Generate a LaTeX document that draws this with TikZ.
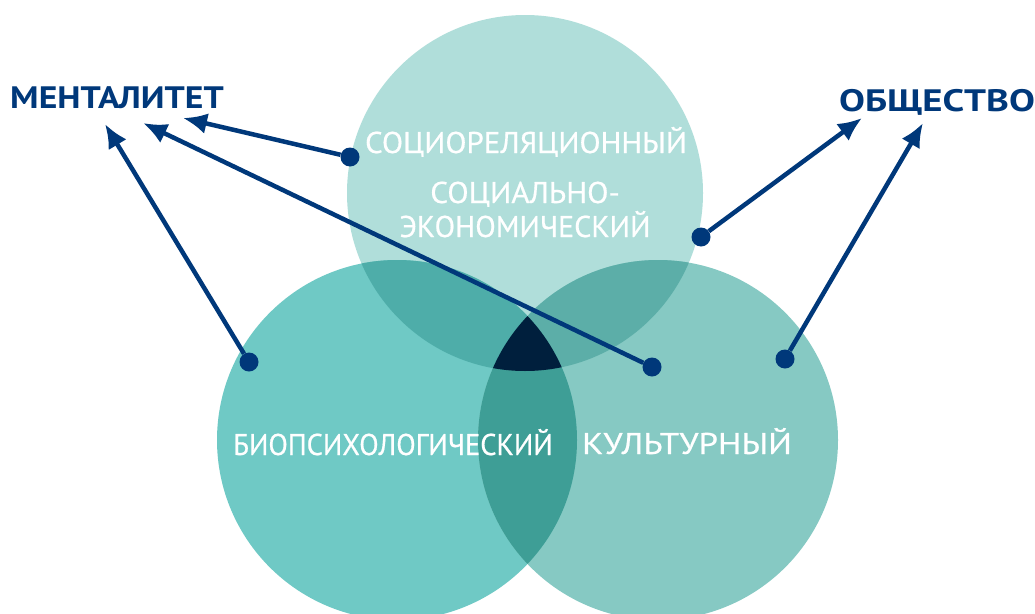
\documentclass[tikz,border=0pt]{standalone}
\usepackage{fontspec}
\setmainfont{PT Sans}
\newfontfamily\circlefont[FakeBold=0.6]{PT Sans}
\usepackage{xcolor}
\usepackage{tikz}
\usetikzlibrary{arrows.meta}
\definecolor{navyblue}{HTML}{00387A}
\definecolor{toplight}{HTML}{B0DEDA}
\definecolor{leftteal}{HTML}{6FC9C5}
\definecolor{rightteal}{HTML}{86C9C3}
\definecolor{topleft}{HTML}{4EADA9}
\definecolor{topright}{HTML}{5CAEA8}
\definecolor{leftright}{HTML}{3E9E96}
\definecolor{middark}{HTML}{001F3D}

\begin{document}
\begin{tikzpicture}[x=1pt, y=-1pt,
  incircle/.style = {text=white, anchor=base, inner sep=0pt, font=\circlefont\fontsize{30}{30}\selectfont},
  outlabel/.style = {text=navyblue, anchor=base, inner sep=0pt, font=\bfseries\fontsize{31}{31}\selectfont},
  enddot/.style = {circle, fill=navyblue, minimum size=19pt, inner sep=0pt},
  link/.style = {draw=navyblue, line width=4.5pt, -{Latex[length=24pt, width=21pt]}}]

\useasboundingbox (0,0) rectangle (1035,613);
\clip (0,0) rectangle (1035,613);

\fill[toplight] (525,193) circle (178pt);
\fill[leftteal] (397,440) circle (180pt);
\fill[rightteal] (658,440) circle (180pt);
\begin{scope}
  \clip (525,193) circle (178pt);
  \fill[topleft] (397,440) circle (180pt);
  \fill[topright] (658,440) circle (180pt);
\end{scope}
\begin{scope}
  \clip (397,440) circle (180pt);
  \fill[leftright] (658,440) circle (180pt);
  \clip (658,440) circle (180pt);
  \fill[middark] (525,193) circle (178pt);
\end{scope}

\node (socrel) at (526,153) [incircle, xscale=1.03]{СОЦИОРЕЛЯЦИОННЫЙ};
\node (soc1) at (525,203) [incircle, xscale=1.04]{СОЦИАЛЬНО-};
\node (soc2) at (525,237) [incircle]{ЭКОНОМИЧЕСКИЙ};
\node (bio) at (393,455) [incircle, xscale=0.95]{БИОПСИХОЛОГИЧЕСКИЙ};
\node (cult) at (687,454) [incircle, xscale=1.16]{КУЛЬТУРНЫЙ};
\node (ment) at (117,108) [outlabel, xscale=1.15]{МЕНТАЛИТЕТ};
\node (obsh) at (937,111) [outlabel, xscale=1.25]{ОБЩЕСТВО};

\node (d1) at (350,157) [enddot]{};
\node (d2) at (249,362) [enddot]{};
\node (d3) at (652,367) [enddot]{};
\node (d4) at (701,237) [enddot]{};
\node (d5) at (785,359) [enddot]{};

\coordinate (t1) at (183,118);
\coordinate (t2) at (105,124);
\coordinate (t3) at (143,123);
\coordinate (t4) at (862,118);
\coordinate (t5) at (923,123);

\draw[link] (d1) -- (t1);
\draw[link] (d2) -- (t2);
\draw[link] (d3) -- (t3);
\draw[link] (d4) -- (t4);
\draw[link] (d5) -- (t5);

\end{tikzpicture}
\end{document}
